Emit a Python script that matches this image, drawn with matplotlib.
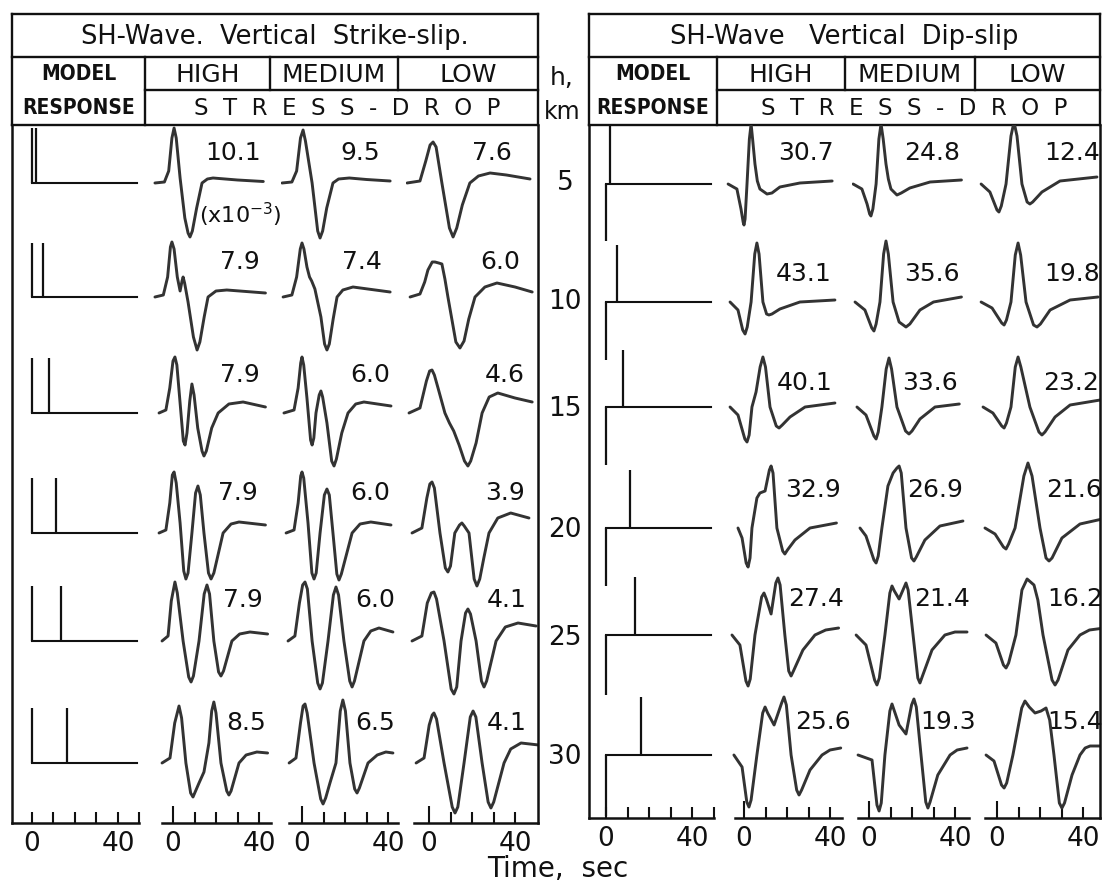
import matplotlib
matplotlib.use("Agg")
import matplotlib.pyplot as plt
from matplotlib.ticker import FixedLocator, FuncFormatter

# ---------------- data ----------------
depths = [5, 10, 15, 20, 25, 30]
reflection_delay = [1.8, 5.0, 8.0, 11.0, 13.5, 16.5]      # s, second spike of model response
ss_spike_amp = [(55, 55), (54, 54), (55, 55), (55, 55), (55, 55), (55, 55)]
ds_spike_amp = [(-57, 59), (-58, 57), (-58, 57), (-58, 58), (-60, 58), (-61, 58)]

ss_high_lbl = ["10.1", "7.9", "7.9", "7.9", "7.9", "8.5"]
ss_med_lbl = ["9.5", "7.4", "6.0", "6.0", "6.0", "6.5"]
ss_low_lbl = ["7.6", "6.0", "4.6", "3.9", "4.1", "4.1"]
ds_high_lbl = ["30.7", "43.1", "40.1", "32.9", "27.4", "25.6"]
ds_med_lbl = ["24.8", "35.6", "33.6", "26.9", "21.4", "19.3"]
ds_low_lbl = ["12.4", "19.8", "23.2", "21.6", "16.2", "15.4"]

# waveforms: (time s, trace amplitude) per depth
ss_high = [
    [(-8.4,0),(-4,1),(-2,12),(-0.5,45),(0.5,55),(1.5,45),(3.3,5),(5.5,-35),(7,-50),(7.9,-54),(9,-48),(11,-25),(13.5,0),(16,4),(18.6,5),(30,3),(42,1.5)],
    [(-8.4,0),(-4.5,2),(-2.5,20),(-1.2,50),(-0.5,55),(0.5,48),(2,20),(3.3,6),(4.2,16),(4.7,20),(5.4,14),(7,-5),(9.5,-40),(11.2,-53),(12.5,-45),(14.5,-20),(16.3,0),(20,6),(25,7),(43,4)],
    [(-6.5,0),(-3.3,3),(-1.5,25),(0,52),(0.9,56),(1.8,48),(3.3,10),(4.8,-28),(5.6,-32),(6.5,-20),(7.8,12),(8.8,29),(9.8,18),(11.5,-15),(13.5,-38),(14.4,-43),(15.5,-38),(18,-15),(21,0),(26,9),(32.6,11),(43,6)],
    [(-6.5,0),(-3.3,3),(-1.5,30),(-0.3,58),(0.5,61),(1.5,50),(3.3,10),(5,-38),(6,-46),(7,-40),(8.8,0),(10.5,40),(11.6,47),(12.7,38),(14.4,0),(16.5,-40),(17.7,-46),(19,-40),(23.3,0),(27,9),(30.7,11),(43,8)],
    [(-5.1,0),(-2.3,5),(-0.8,40),(0.9,59),(2,48),(4.7,0),(7.3,-36),(8.4,-41),(9.5,-35),(12.1,0),(14.5,47),(15.8,56),(17,47),(19,0),(21.2,-31),(22.3,-35),(23.5,-30),(27.4,0),(31,7),(35.8,9),(44,7)],
    [(-5.1,0),(-1.4,5),(0.8,40),(2.8,57),(4,45),(6,0),(8.2,-30),(9.3,-34),(10.5,-28),(12.1,-20),(14.4,-9),(16.7,20),(18,52),(19,61),(20,50),(22.3,0),(25,-28),(26,-32),(27,-28),(30.7,0),(34,8),(39,11),(44,10)],
]
ss_med = [
    [(-9.3,0),(-4.7,1),(-2.5,12),(-0.7,45),(0.5,53),(1.6,42),(4.7,0),(7.3,-48),(8.4,-55),(9.6,-48),(11.5,-25),(14.4,0),(17,4),(22,5),(30,3.5),(41,2)],
    [(-8.8,0),(-4.7,2),(-2.5,20),(-0.8,48),(0,54),(0.9,48),(2.3,30),(3.5,20),(4.5,16),(6,8),(8.8,-20),(10.5,-47),(11.6,-53),(12.7,-47),(14.5,-22),(16.3,0),(19,7),(23.7,10),(41,5)],
    [(-8.4,0),(-3.7,3),(-1.8,25),(-0.6,50),(0,56),(0.8,48),(2.3,15),(4,-27),(4.7,-32),(5.5,-25),(6.5,0),(8,18),(8.8,22),(9.6,16),(11.6,-10),(13.8,-48),(14.9,-53),(16,-46),(18.5,-20),(21.4,0),(25,9),(28.8,11),(41.4,7)],
    [(-7.4,0),(-3.7,3),(-1.8,30),(-0.6,57),(0,61),(0.8,55),(2.8,10),(4.6,-40),(5.6,-46),(6.6,-40),(8.4,0),(10.4,38),(11.6,44),(12.7,38),(14.4,0),(16.2,-41),(17.2,-47),(18.3,-41),(23.3,0),(27,9),(32,11),(41.4,8)],
    [(-6.5,0),(-3.3,5),(-1.2,38),(0.3,56),(1.4,59),(2.5,52),(4.7,0),(7.3,-42),(8.4,-48),(9.5,-42),(12.1,0),(14.6,46),(15.8,54),(17,46),(19.5,0),(22.2,-40),(23.3,-46),(24.4,-40),(28.8,0),(32,10),(35.8,13),(42.3,9)],
    [(-6,0),(-2.8,5),(-0.7,40),(0.5,57),(1.4,59),(2.4,50),(5.6,0),(8.7,-36),(9.8,-41),(11,-35),(13,-20),(15.8,0),(17.8,52),(19,63),(20.2,52),(22.3,0),(24.5,-26),(25.6,-30),(26.7,-25),(30.7,0),(35,8),(39,11),(42.3,10)],
]
ss_low = [
    [(-10.2,0),(-4.2,2),(-1.5,22),(0.5,38),(1.9,41),(3.3,36),(6,0),(9.5,-45),(11.2,-54),(12.9,-45),(15.5,-22),(19,0),(23,7),(28.4,10),(36,8),(47,4)],
    [(-8.8,0),(-4.2,3),(-2,15),(-0.5,27),(1.5,35),(2.8,35),(4.5,34),(6,33),(7.4,18),(8.8,0),(12.5,-45),(14.4,-51),(16.3,-44),(18.5,-22),(21.4,0),(26,10),(31.6,14),(40,10),(48,5)],
    [(-9.3,0),(-4.2,5),(-1.2,32),(0.3,42),(1.4,43),(2.5,38),(4.2,25),(7.4,0),(9.5,-10),(11.5,-18),(14,-32),(16.5,-48),(18.1,-53),(19.4,-48),(21.9,-30),(24.7,0),(28,16),(32,20),(40,15),(48,11)],
    [(-7.9,0),(-3.3,5),(-1,35),(0.4,49),(1.4,51),(2.5,45),(5.1,0),(7.6,-35),(8.8,-39),(10,-33),(12,0),(14.2,8),(15.3,10),(16.4,7),(18.6,0),(21,-46),(22.3,-53),(23.6,-46),(25.5,-25),(27.9,0),(32,15),(38,20),(46.5,15)],
    [(-7.9,0),(-3.3,5),(-0.8,38),(1.1,48),(2.3,49),(3.5,42),(7,0),(10.3,-48),(11.6,-53),(12.9,-46),(14.9,0),(17,28),(18.1,32),(19.3,27),(21.9,0),(24.4,-40),(25.6,-46),(26.8,-40),(31.2,0),(35.5,14),(41.4,18),(49.8,15)],
    [(-6,0),(-2.3,5),(0.1,38),(1.5,48),(2.3,50),(3.5,44),(7,0),(10.8,-44),(12.1,-50),(13.4,-44),(16.3,0),(19.2,46),(20.5,52),(21.8,46),(24.7,0),(27.5,-39),(28.8,-45),(30.1,-39),(34.9,0),(38,14),(42.8,20),(51,18)],
]
ds_high = [
    [(-7.4,0),(-3.3,-5),(-1.4,-25),(-0.4,-38),(0,-41),(0.5,-35),(1.4,0),(2.5,45),(3.3,60),(4,45),(5.1,20),(6.2,3),(7.4,-5),(10.7,-10),(13,-9),(16.7,-3),(26,1),(41,3)],
    [(-6.5,0),(-2.8,-8),(-0.6,-28),(0.5,-32),(1.5,-25),(3.3,0),(5,48),(6,59),(7,48),(8.8,0),(10.5,-12),(11.6,-13),(13,-12),(16.7,-7),(26,0),(42.3,2)],
    [(-6.5,0),(-2.8,-8),(0.4,-32),(1.4,-35),(2.4,-28),(3.7,0),(5.6,15),(7.5,40),(8.8,50),(10,40),(12.1,0),(15,-19),(16.3,-21),(17.8,-18),(21.4,-10),(28.4,0),(42.3,4)],
    [(-2.8,0),(-0.9,-10),(1,-35),(1.9,-39),(2.8,-30),(3.7,0),(6,30),(7.4,35),(9.8,37),(11.8,58),(12.6,62),(13.5,55),(15.3,0),(18,-23),(19,-26),(20.2,-22),(23.7,-12),(30.7,0),(43,5)],
    [(-5.6,0),(-1.9,-10),(0.9,-46),(1.9,-51),(2.9,-44),(5.1,0),(8.2,38),(9.3,42),(10.4,36),(12.6,21),(14.8,52),(15.8,57),(16.8,50),(19,0),(20.8,-36),(21.9,-41),(23,-36),(27.4,-15),(33,0),(38,5),(44,7)],
    [(-4.7,0),(-0.9,-12),(1.3,-47),(2.3,-52),(3.3,-45),(6,0),(8.7,42),(9.8,48),(11,42),(14,30),(17.5,52),(18.6,58),(19.7,50),(21.9,0),(24.5,-35),(25.6,-40),(26.8,-35),(30.7,-15),(36.3,0),(40,5),(45,7)],
]
ds_med = [
    [(-7.4,0),(-3.3,-5),(-0.9,-20),(0.3,-30),(0.9,-32),(1.8,-25),(3.3,0),(4.6,45),(5.6,60),(6.6,45),(7.9,20),(9,5),(10.2,-5),(13,-11),(15,-9),(19,-4),(28.4,2),(43,4)],
    [(-6.5,0),(-1.9,-8),(1.3,-26),(2.3,-29),(3.3,-22),(5.1,0),(6.8,48),(7.9,61),(9,48),(11.2,0),(14,-20),(17.2,-25),(19,-22),(23.7,-8),(30,0),(43,5)],
    [(-5.6,0),(-1.4,-8),(2.3,-29),(3.3,-32),(4.3,-25),(6,0),(8,38),(9.3,49),(10.5,38),(13,0),(17,-24),(18.6,-27),(20,-24),(23.7,-12),(30.7,0),(42,3)],
    [(-4.2,0),(-1.4,-8),(2.3,-32),(3.3,-35),(4.3,-28),(6,0),(8.8,42),(11.2,55),(13,60),(14,62),(15,55),(17.2,0),(19.8,-30),(20.9,-33),(22,-29),(26,-12),(33,2),(43.7,7)],
    [(-6,0),(-1.4,-10),(2.6,-45),(3.7,-50),(4.8,-43),(7.4,0),(9.7,42),(10.7,49),(11.8,44),(14,36),(16.2,47),(17.2,52),(18.2,45),(20.5,0),(22.7,-43),(23.7,-48),(24.7,-42),(29.3,-15),(35.3,0),(40,3),(45.6,3)],
    [(-5.1,0),(1.4,-5),(3.7,-50),(4.7,-56),(5.7,-48),(7.4,0),(9.7,44),(10.7,51),(11.8,44),(14,30),(17.2,21),(19.8,50),(20.9,56),(22,48),(24.2,0),(26.4,-47),(27.4,-53),(28.4,-47),(32,-20),(37.7,0),(41,5),(45.6,7)],
]
ds_low = [
    [(-7.4,0),(-3.3,-8),(0,-26),(0.9,-28),(2,-22),(4.2,0),(6.5,48),(7.9,62),(9.3,48),(11.6,0),(14,-18),(15.3,-20),(16.6,-18),(20.9,-8),(29.3,3),(46.5,7)],
    [(-7.4,0),(-2.3,-6),(2.2,-21),(3.3,-23),(4.4,-18),(6.5,0),(8.5,47),(9.8,59),(11,47),(13.5,0),(17,-23),(18.6,-25),(20.2,-22),(24.7,-8),(34,2),(47,5)],
    [(-6.5,0),(-1.9,-6),(2.2,-19),(3.3,-21),(4.4,-16),(6.5,0),(8.5,40),(9.8,50),(11.1,40),(15.3,0),(19.5,-25),(20.9,-28),(22.3,-25),(27,-10),(34,2),(48,7)],
    [(-5.6,0),(-0.9,-6),(3,-19),(4.2,-21),(5.4,-16),(8.4,0),(12.5,52),(14.4,65),(16.3,52),(20,0),(22.8,-30),(24.2,-33),(25.6,-30),(30.2,-10),(38.6,4),(49,9)],
    [(-5.1,0),(-0.5,-8),(3,-30),(4.2,-33),(5.4,-28),(8.8,0),(11.6,45),(14,56),(17.2,50),(19,35),(21.4,0),(25.6,-45),(27,-50),(28.4,-45),(33,-15),(38.6,0),(43,5),(50,7)],
    [(-5.1,0),(-1.4,-6),(2.1,-30),(3.3,-33),(4.5,-28),(7.4,0),(11.5,47),(13,54),(15,48),(17.7,42),(20.5,44),(22.8,47),(24.5,35),(26.5,0),(29,-48),(30.2,-53),(31.4,-48),(34.9,-20),(38.6,0),(41,7),(43.3,9),(50,9)],
]

# ---------------- layout ----------------
W, H = 1110, 889
PXS = 2.15                       # pixels per second
FONT = "DejaVu Sans"
INK = "#111111"
WAVE = "#333333"

fig = plt.figure(figsize=(W / 100, H / 100), dpi=100)
fig.patch.set_facecolor("white")
bg = fig.add_axes([0, 0, 1, 1])
bg.set_xlim(0, W)
bg.set_ylim(H, 0)
bg.axis("off")

TOP, ROW1, ROW2, HB = 14, 57, 90, 125


def px_axes(x0, x1, y0, y1):
    a = fig.add_axes([x0 / W, 1 - y1 / H, (x1 - x0) / W, (y1 - y0) / H])
    a.patch.set_alpha(0)
    return a


def narrow_text(x, y, s, size):
    return bg.text(x, y, s, ha="center", va="center", fontsize=size, family=FONT,
                   weight="bold", color=INK, fontstretch="condensed")


def header(x0, x1, xm, xd1, xd2, title, cols):
    lw = 1.7
    for y, xa in [(TOP, x0), (ROW1, x0), (ROW2, xm), (HB, x0)]:
        bg.plot([xa, x1], [y, y], color=INK, lw=lw, solid_capstyle="projecting")
    bg.plot([x0, x0], [TOP, HB], color=INK, lw=lw)
    bg.plot([x1, x1], [TOP, HB], color=INK, lw=lw)
    bg.plot([xm, xm], [ROW1, HB], color=INK, lw=lw)
    bg.plot([xd1, xd1], [ROW1, ROW2], color=INK, lw=lw)
    bg.plot([xd2, xd2], [ROW1, ROW2], color=INK, lw=lw)
    bg.text((x0 + x1) / 2, (TOP + ROW1) / 2 + 1, title, ha="center", va="center",
            fontsize=18.5, family=FONT, color=INK)
    narrow_text((x0 + xm) / 2, (ROW1 + ROW2) / 2 + 1, "MODEL", 15)
    narrow_text((x0 + xm) / 2, (ROW2 + HB) / 2 + 1, "RESPONSE", 15)
    for (xa, xb), s in zip([(xm, xd1), (xd1, xd2), (xd2, x1)], cols):
        bg.text((xa + xb) / 2, (ROW1 + ROW2) / 2 + 1, s, ha="center", va="center",
                fontsize=18, family=FONT, color=INK)
    bg.text((xm + x1) / 2 + 6, (ROW2 + HB) / 2 + 1, "S  T  R  E  S  S  -  D  R  O  P",
            ha="center", va="center", fontsize=16.5, family=FONT, color=INK)


def setup_col(ax, x0, x1, xzero, ybot, bounds, model=False, left=False, right=False):
    ax.set_xlim((x0 - xzero) / PXS, (x1 - xzero) / PXS)
    ax.set_ylim(-ybot, -HB)
    ax.spines["top"].set_visible(False)
    ax.spines["left"].set_visible(left)
    ax.spines["right"].set_visible(right)
    for s in ("bottom", "left", "right"):
        ax.spines[s].set_linewidth(1.8)
        ax.spines[s].set_color(INK)
    lo, hi = bounds
    if lo is None:
        lo = ax.get_xlim()[0]
    if hi is None:
        hi = ax.get_xlim()[1]
    ax.spines["bottom"].set_bounds(lo, hi)
    ax.set_yticks([])
    ax.xaxis.set_major_locator(FixedLocator([0]))
    ax.xaxis.set_minor_locator(FixedLocator([10, 20, 30, 40, 50] if model else [10, 20, 30, 40]))
    ax.xaxis.set_major_formatter(FuncFormatter(lambda v, p: "0"))
    ax.xaxis.set_minor_formatter(FuncFormatter(lambda v, p: "40" if abs(v - 40) < 1e-6 else ""))
    ax.tick_params(axis="x", which="major", direction="in", length=8 if model else 12,
                   width=1.5, color=INK, labelsize=19, pad=6, labelcolor=INK)
    ax.tick_params(axis="x", which="minor", direction="in", length=8, width=1.5,
                   color=INK, labelsize=19, pad=6, labelcolor=INK)
    for lab in ax.get_xticklabels(which="both"):
        lab.set_family(FONT)


def draw_waves(ax, waves, bases):
    for w, b in zip(waves, bases):
        ts = [p[0] for p in w]
        ys = [-b + p[1] for p in w]
        ax.plot(ts, ys, color=WAVE, lw=2.1, solid_joinstyle="round", solid_capstyle="round")


def draw_model(ax, bases, spikes, delays, end):
    for b, (a1, a2), d in zip(bases, spikes, delays):
        ax.plot([0, end], [-b, -b], color=INK, lw=1.5)
        ax.vlines([0], -b, -b + a1, color=INK, lw=1.6)
        ax.vlines([d], -b, -b + a2, color=INK, lw=1.6)


# ---------------- left panel: vertical strike-slip ----------------
L_base = [183, 297, 413, 533, 641, 763]
L_bot = 823
header(12, 538, 145, 270, 398, "SH-Wave.  Vertical  Strike-slip.", ["HIGH", "MEDIUM", "LOW"])

axm = px_axes(12, 147, HB, L_bot)
setup_col(axm, 12, 147, 32, L_bot, (None, 50), model=True, left=True)
draw_model(axm, L_base, ss_spike_amp, reflection_delay, 49)

cols_L = [(150, 276, 173, (-5.2, 45.5), ss_high),
          (281, 402, 302, (-6.0, 44.6), ss_med),
          (406, 538, 429, (-7.0, None), ss_low)]
for i, (x0, x1, xz, bnd, waves) in enumerate(cols_L):
    ax = px_axes(x0, x1, HB, L_bot)
    setup_col(ax, x0, x1, xz, L_bot, bnd, right=(i == 2))
    draw_waves(ax, waves, L_base)

# ---------------- right panel: vertical dip-slip ----------------
R_base = [184, 302, 407, 528, 635, 755]
R_bot = 818
header(589, 1100, 717, 845, 975, "SH-Wave   Vertical  Dip-slip", ["HIGH", "MEDIUM", "LOW"])

axm = px_axes(589, 721, HB, R_bot)
setup_col(axm, 589, 721, 606, R_bot, (None, 50), model=True, left=True)
draw_model(axm, R_base, ds_spike_amp, reflection_delay, 49)

cols_R = [(726, 848, 744, (-4.2, 45.6), ds_high),
          (852, 975, 869, (-5.1, 46.5), ds_med),
          (979, 1100, 997, (-5.6, None), ds_low)]
for i, (x0, x1, xz, bnd, waves) in enumerate(cols_R):
    ax = px_axes(x0, x1, HB, R_bot)
    setup_col(ax, x0, x1, xz, R_bot, bnd, right=(i == 2))
    draw_waves(ax, waves, R_base)

# ---------------- amplitude labels ----------------
L_lbl_y = [153, 262, 375, 493, 600, 723]
R_lbl_y = [153, 274, 383, 490, 599, 722]
for lbls, xs, ys in [(ss_high_lbl, [233, 240, 240, 238, 243, 246], L_lbl_y),
                     (ss_med_lbl, [360, 362, 370, 370, 375, 375], L_lbl_y),
                     (ss_low_lbl, [492, 500, 505, 505, 507, 507], L_lbl_y),
                     (ds_high_lbl, [806, 804, 805, 813, 816, 823], R_lbl_y),
                     (ds_med_lbl, [932, 932, 930, 935, 942, 948], R_lbl_y),
                     (ds_low_lbl, [1072, 1072, 1071, 1074, 1075, 1075], R_lbl_y)]:
    for s, x, y in zip(lbls, xs, ys):
        bg.text(x, y, s, ha="center", va="center", fontsize=18, family=FONT, color=INK)

bg.text(240, 215, r"(x10$^{-3}$)", ha="center", va="center", fontsize=16, family=FONT, color=INK)

# depth labels
depth_y = [183, 302, 409, 530, 638, 757]
for d, y in zip(depths, depth_y):
    bg.text(565, y, str(d), ha="center", va="center", fontsize=19, family=FONT, color=INK)
bg.text(562, 78, "h,", ha="center", va="center", fontsize=18, family=FONT, color=INK)
bg.text(562, 112, "km", ha="center", va="center", fontsize=17, family=FONT, color=INK)

bg.text(558, 869, "Time,  sec", ha="center", va="center", fontsize=20, family=FONT, color=INK)

fig.savefig("out.png", dpi=100, facecolor="white")
